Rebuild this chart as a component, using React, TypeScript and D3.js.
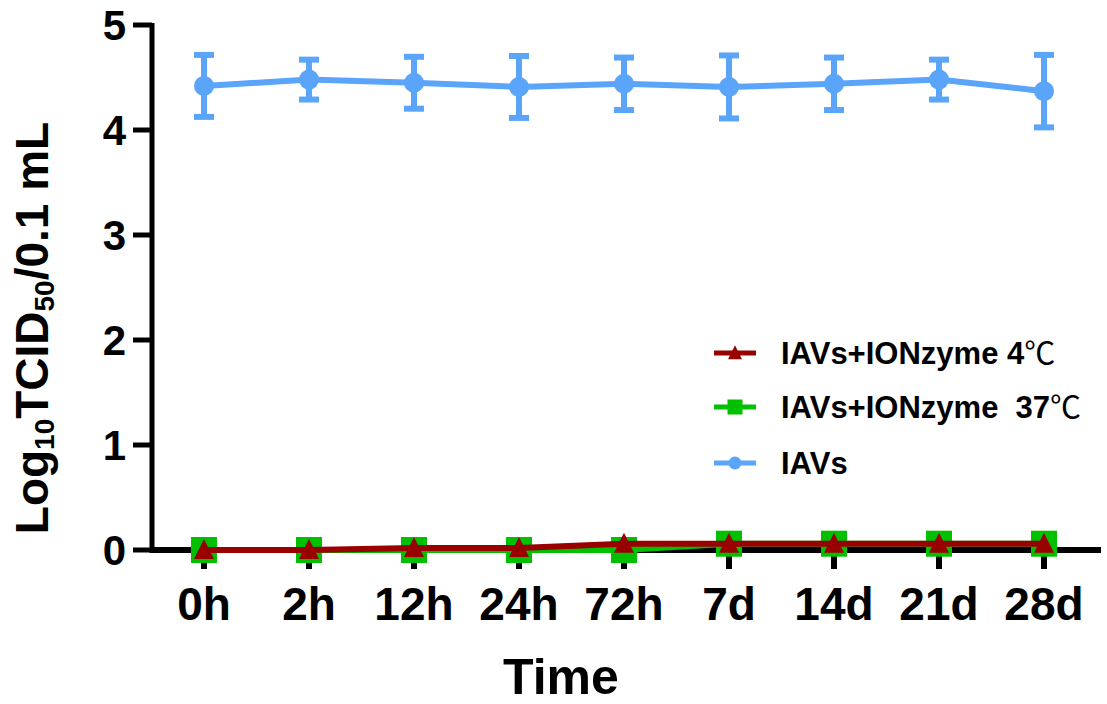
import React from "react";
import * as d3 from "d3";

// Sampling times (categorical x axis)
const timePoints = ["0h", "2h", "12h", "24h", "72h", "7d", "14d", "21d", "28d"];

// Log10 TCID50 / 0.1 mL for each group
const iavMean = [4.42, 4.48, 4.45, 4.41, 4.44, 4.41, 4.44, 4.48, 4.37];
const iavSd = [0.295, 0.19, 0.247, 0.295, 0.25, 0.3, 0.25, 0.19, 0.345];
const ionzyme37 = [0, 0, 0, 0, 0, 0.06, 0.06, 0.06, 0.06];
const ionzyme4 = [0, 0, 0.02, 0.02, 0.06, 0.06, 0.06, 0.06, 0.06];

const yTicks = [0, 1, 2, 3, 4, 5];

const legendItems = [
  { label: "IAVs+IONzyme 4", unit: "\u2103", color: "#990000", shape: "triangle" },
  { label: "IAVs+IONzyme  37", unit: "\u2103", color: "#00C000", shape: "square" },
  { label: "IAVs", unit: "", color: "#5AA5FA", shape: "circle" },
];

const FONT = "'Liberation Sans', Arial, Helvetica, sans-serif";
const CJK_FONT = "'Noto Sans CJK SC', 'Liberation Sans', sans-serif";

const W = 1107;
const H = 704;

function Marker({ shape, x, y, color, size }: { shape: string; x: number; y: number; color: string; size: number }) {
  if (shape === "circle") return <circle cx={x} cy={y} r={size / 2} fill={color} />;
  if (shape === "square")
    return <rect x={x - size / 2} y={y - size / 2} width={size} height={size} fill={color} />;
  const h = size;
  const w = size;
  return (
    <path
      d={`M${x},${y - h * 0.55} L${x + w / 2},${y + h * 0.45} L${x - w / 2},${y + h * 0.45} Z`}
      fill={color}
    />
  );
}

export default function App() {
  const x = d3.scalePoint<string>().domain(timePoints).range([204, 1044]);
  const y = d3.scaleLinear().domain([0, 5]).range([550, 25]);
  const axisX = 152;
  const axisY = y(0);

  const line = d3
    .line<number>()
    .x((_, i) => x(timePoints[i]) as number)
    .y((d) => y(d));

  const blue = legendItems[2].color;
  const green = legendItems[1].color;
  const red = legendItems[0].color;

  return (
    <svg
      width={W}
      height={H}
      style={{ position: "absolute", left: 0, top: 0, background: "#fff" }}
      fontFamily={FONT}
      fontWeight="bold"
    >
      {/* y axis */}
      <line x1={axisX} x2={axisX} y1={y(5) - 2} y2={axisY + 3} stroke="#000" strokeWidth={5} />
      {yTicks.map((t) => (
        <g key={t}>
          <line x1={133} x2={axisX} y1={y(t)} y2={y(t)} stroke="#000" strokeWidth={5} />
          <text x={126} y={y(t) + 15} fontSize={42} textAnchor="end" fill="#000">
            {t}
          </text>
        </g>
      ))}

      {/* x axis */}
      <line x1={axisX} x2={1101} y1={axisY} y2={axisY} stroke="#000" strokeWidth={6} />
      {timePoints.map((t) => (
        <g key={t}>
          <line x1={x(t)} x2={x(t)} y1={axisY} y2={569} stroke="#000" strokeWidth={6} />
          <text x={x(t)} y={620} fontSize={46} textAnchor="middle" fill="#000">
            {t}
          </text>
        </g>
      ))}

      {/* axis titles */}
      <text x={561} y={694} fontSize={50} textAnchor="middle" fill="#000">
        Time
      </text>
      <text transform="translate(48,328) rotate(-90)" fontSize={46} textAnchor="middle" fill="#000">
        Log
        <tspan fontSize={28} dy={6}>10</tspan>
        <tspan dy={-6}>TCID</tspan>
        <tspan fontSize={28} dy={6}>50</tspan>
        <tspan dy={-6}>/0.1 mL</tspan>
      </text>

      {/* IAVs with error bars */}
      <path d={line(iavMean) ?? ""} fill="none" stroke={blue} strokeWidth={6} />
      {iavMean.map((m, i) => {
        const cx = x(timePoints[i]) as number;
        const top = y(m + iavSd[i]);
        const bot = y(m - iavSd[i]);
        return (
          <g key={i}>
            <line x1={cx} x2={cx} y1={top} y2={bot} stroke={blue} strokeWidth={6} />
            <line x1={cx - 10} x2={cx + 10} y1={top} y2={top} stroke={blue} strokeWidth={6} />
            <line x1={cx - 10} x2={cx + 10} y1={bot} y2={bot} stroke={blue} strokeWidth={6} />
            <circle cx={cx} cy={y(m)} r={10} fill={blue} />
          </g>
        );
      })}

      {/* IAVs + IONzyme 37 °C */}
      <path d={line(ionzyme37) ?? ""} fill="none" stroke={green} strokeWidth={6} />
      {ionzyme37.map((v, i) => (
        <Marker key={i} shape="square" x={x(timePoints[i]) as number} y={y(v)} color={green} size={26} />
      ))}

      {/* IAVs + IONzyme 4 °C */}
      <path d={line(ionzyme4) ?? ""} fill="none" stroke={red} strokeWidth={6} />
      {ionzyme4.map((v, i) => (
        <Marker key={i} shape="triangle" x={x(timePoints[i]) as number} y={y(v)} color={red} size={20} />
      ))}

      {/* legend */}
      {legendItems.map((item, i) => {
        const ly = [353, 407, 463][i];
        return (
          <g key={item.label}>
            <line x1={714} x2={756} y1={ly} y2={ly} stroke={item.color} strokeWidth={5} />
            <Marker
              shape={item.shape}
              x={735}
              y={ly}
              color={item.color}
              size={item.shape === "circle" ? 13 : item.shape === "square" ? 15 : 14}
            />
            <text x={781} y={ly + 11} fontSize={31} fill="#000" style={{ whiteSpace: "pre" }}>
              {item.label}
              {item.unit && (
                <tspan fontFamily={CJK_FONT} fontWeight="normal">
                  {item.unit}
                </tspan>
              )}
            </text>
          </g>
        );
      })}
    </svg>
  );
}
